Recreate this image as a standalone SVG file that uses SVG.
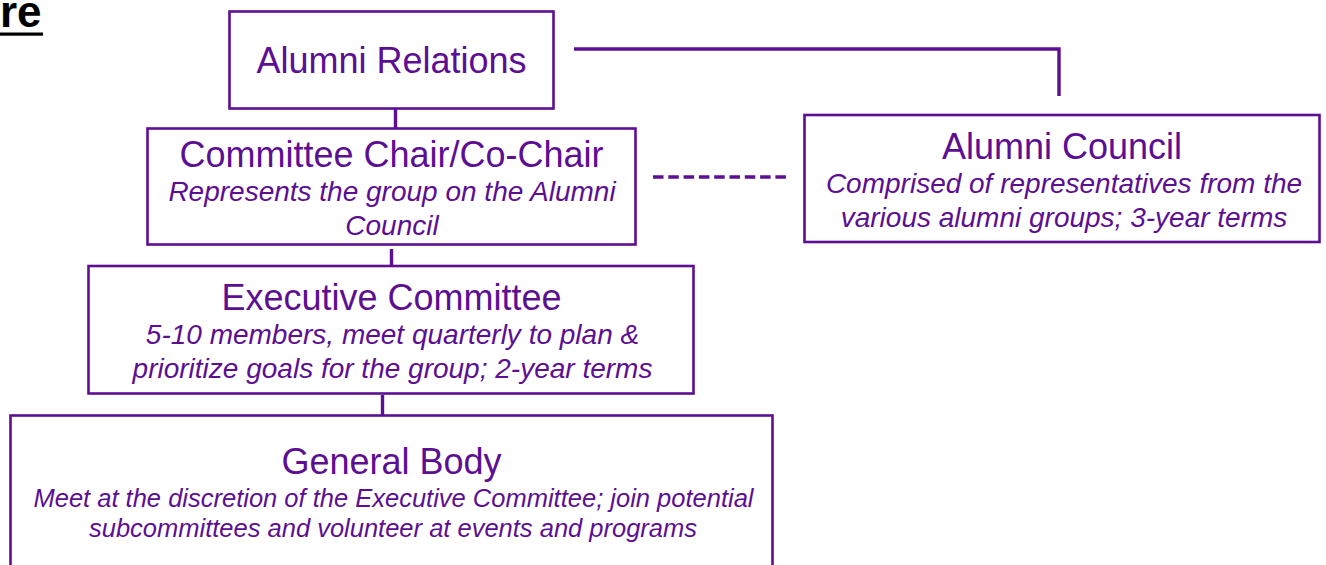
<svg xmlns="http://www.w3.org/2000/svg" width="1326" height="565" viewBox="0 0 1326 565">
  <style>
    .box { fill: #ffffff; stroke: #5c0f93; stroke-width: 2.6; }
    .link { fill: none; stroke: #5c0f93; stroke-width: 3.4; }
    .dash { stroke-dasharray: 10.5 4.8; }
    .title { font-family: "Liberation Sans", Arial, sans-serif; font-size: 36px; fill: #5c0f93; text-anchor: middle; }
    .note { font-family: "Liberation Sans", Arial, sans-serif; font-size: 28px; font-style: italic; fill: #5c0f93; text-anchor: middle; }
    .note.small { font-size: 25.5px; }
    .heading { font-family: "Liberation Sans", Arial, sans-serif; font-size: 44px; font-weight: bold; fill: #000000; }
  </style>

  <!-- page heading fragment -->
  <g id="heading">
    <text class="heading" x="0" y="27">re</text>
    <rect x="0" y="32.5" width="43" height="3.2" fill="#000000"/>
  </g>

  <!-- connectors -->
  <g id="connectors">
    <path class="link" d="M574 49 H1059 V96"/>
    <line class="link" x1="395.5" y1="103" x2="395.5" y2="133"/>
    <line class="link" x1="391.5" y1="249" x2="391.5" y2="279"/>
    <line class="link" x1="382.5" y1="395" x2="382.5" y2="423"/>
    <line class="link dash" x1="653" y1="177" x2="786" y2="177"/>
  </g>

  <g id="alumni-relations">
    <rect class="box" x="229.5" y="11.5" width="324" height="97"/>
    <text class="title" x="391.5" y="73">Alumni Relations</text>
  </g>

  <g id="committee-chair">
    <rect class="box" x="147.5" y="128.5" width="488" height="116"/>
    <text class="title" x="391.5" y="166.5">Committee Chair/Co-Chair</text>
    <text class="note" x="392" y="200.5">Represents the group on the Alumni</text>
    <text class="note" x="392" y="235">Council</text>
  </g>

  <g id="alumni-council">
    <rect class="box" x="804.5" y="115" width="515" height="127"/>
    <text class="title" x="1062" y="158.5">Alumni Council</text>
    <text class="note" x="1064" y="192.5">Comprised of representatives from the</text>
    <text class="note" x="1064" y="227">various alumni groups; 3-year terms</text>
  </g>

  <g id="executive-committee">
    <rect class="box" x="88.5" y="266" width="605" height="127.5"/>
    <text class="title" x="391.5" y="309.5">Executive Committee</text>
    <text class="note" x="392.5" y="343.5">5-10 members, meet quarterly to plan &amp;</text>
    <text class="note" x="392.5" y="378">prioritize goals for the group; 2-year terms</text>
  </g>

  <g id="general-body">
    <rect class="box" x="10.5" y="415.5" width="762" height="170"/>
    <text class="title" x="391.5" y="474">General Body</text>
    <text class="note small" x="393.5" y="507">Meet at the discretion of the Executive Committee; join potential</text>
    <text class="note small" x="393" y="537">subcommittees and volunteer at events and programs</text>
  </g>
</svg>
